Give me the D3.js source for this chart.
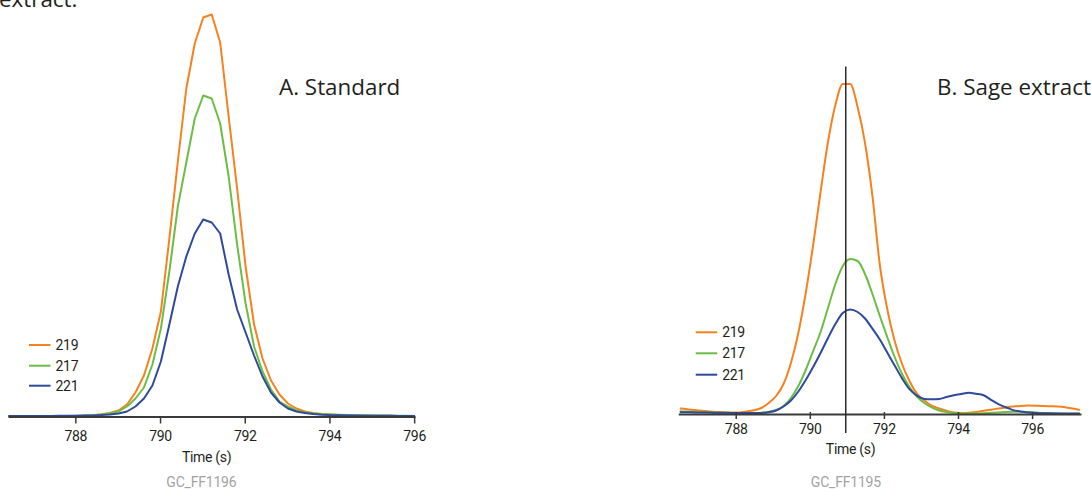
<!DOCTYPE html>
<html>
<head>
<meta charset="utf-8">
<script src="https://cdn.jsdelivr.net/npm/d3@7"></script>
<style>
  html, body { margin: 0; padding: 0; background: #fff; overflow: hidden; }
  svg { display: block; }
  .title { font-family: "Open Sans", sans-serif; font-size: 22.4px; fill: #231f20; }
  .lbl { font-family: Roboto, sans-serif; font-size: 14px; letter-spacing: -0.3px; fill: #231f20; }
  .src { font-family: Roboto, sans-serif; font-size: 14px; letter-spacing: -0.2px; fill: #a3a3a3; }
</style>
</head>
<body>
<svg id="chart" width="1091" height="489"></svg>
<script>
// ---------- DATA ----------
const seriesNames = ["219", "217", "221"];
const seriesColors = ["#f5821f", "#6cbd45", "#2e4b9b"];
const xTicks = [788, 790, 792, 794, 796];

// Panel A: Standard (GC_FF1196)
const timeA = [786.42, 786.62, 786.82, 787.02, 787.22, 787.42, 787.62, 787.82, 788.02,
  788.22, 788.42, 788.62, 788.82, 789.02, 789.22, 789.42, 789.62, 789.82, 790.02,
  790.22, 790.42, 790.62, 790.82, 791.02, 791.22, 791.42, 791.62, 791.82, 792.02,
  792.22, 792.42, 792.62, 792.82, 793.02, 793.22, 793.42, 793.62, 793.82, 794.02,
  794.22, 794.42, 794.62, 794.82, 795.02, 795.22, 795.42, 795.62, 795.82, 796.02];
const a219 = [0.3, 0.3, 0.3, 0.3, 0.3, 0.4, 0.4, 0.5, 0.6,
  0.9, 1.3, 2.2, 3.5, 6, 12, 24, 41, 68, 105,
  178, 255, 328, 373, 399, 402, 374, 300, 228, 150,
  92, 58, 36, 22, 13, 8, 5, 3.5, 2.5, 2,
  1.6, 1.3, 1.1, 1.0, 0.9, 0.8, 0.7, 0.6, 0.5, 0.5];
const a217 = [0.4, 0.4, 0.4, 0.4, 0.4, 0.5, 0.5, 0.6, 0.7,
  0.9, 1.3, 2, 3.2, 5, 10, 18, 29, 52, 88,
  145, 210, 254, 298, 321, 318, 293, 240, 172, 113,
  70, 45, 27, 15, 10, 6, 4, 3, 2.4, 2,
  1.7, 1.5, 1.3, 1.2, 1.1, 1.0, 0.9, 0.8, 0.7, 0.6];
const a221 = [0.6, 0.6, 0.6, 0.6, 0.6, 0.6, 0.7, 0.7, 0.8,
  0.9, 1.1, 1.4, 2, 3, 5, 10, 18, 31, 55,
  92, 130, 160, 183, 197, 194, 183, 142, 107, 84,
  61, 40, 24, 14, 8, 5, 3.5, 2.5, 1.8, 1.4,
  1.2, 1.0, 0.9, 0.8, 0.8, 0.7, 0.7, 0.6, 0.6, 0.6];

// Panel B: Sage extract (GC_FF1195)
const timeB = [786.49, 786.69, 786.89, 787.09, 787.29, 787.49, 787.69, 787.89, 788.09,
  788.29, 788.49, 788.69, 788.89, 789.09, 789.29, 789.49, 789.69, 789.89,
  790.09, 790.29, 790.49, 790.69, 790.89, 791.09, 791.29, 791.49, 791.69, 791.89,
  792.09, 792.29, 792.49, 792.69, 792.89, 793.09, 793.29, 793.49, 793.69, 793.89,
  794.09, 794.29, 794.49, 794.69, 794.89, 795.09, 795.29, 795.49, 795.69, 795.89,
  796.09, 796.29, 796.49, 796.69, 796.89, 797.09, 797.29];
const b219 = [5.4, 4.8, 4.0, 3.3, 2.6, 2.1, 1.7, 1.4, 1.5, 2.5, 3.8, 6, 11, 18, 30, 51, 81, 121,
  169, 222, 272, 309, 330, 330, 307, 271, 218, 149, 105, 73, 50, 33, 20.5, 13.5, 8.3, 5.5, 3.3, 1.5,
  1, 1.2, 2, 3.2, 4.3, 5.5, 6.6, 7.5, 8.1, 8.4, 8.3, 8.1, 7.8, 7.5, 6.8, 5.5, 4.0];
const b217 = [2.7, 2.4, 2.1, 1.8, 1.5, 1.2, 1.0, 0.8, 0.7, 0.8, 1.0, 1.3, 2, 4, 8, 16, 28, 44,
  63, 82, 106, 130, 148, 155, 153, 140, 120, 98, 77, 57, 40, 27, 17.5, 11, 6.7, 3.5, 2, 1,
  0.5, 0.4, 0.5, 0.8, 1.2, 1.6, 2, 2.2, 2.2, 2, 1.5, 1.0, 0.6, 0.4, 0.3, 0.2, 0.2];
const b221 = [1.8, 1.7, 1.6, 1.5, 1.4, 1.3, 1.2, 1.1, 1.0, 1.0, 1.0, 1.1, 1.8, 3.5, 7.5, 13.5, 22.5, 34,
  47, 61, 76, 90, 101, 104.4, 102, 95.5, 85.4, 74.5, 61.4, 48.5, 35.6, 24.8, 18.4, 15.1, 14.7, 15, 17, 18.7,
  20, 21.2, 20.2, 18.7, 14.2, 9.8, 6.8, 3.9, 2.6, 1.4, 0.9, 0.8, 0.7, 0.6, 0.5, 0.4, 0.4];
const markerTimeB = 790.97;

const panels = [
  { time: timeA, series: [a219, a217, a221], title: "A. Standard", source: "GC_FF1196",
    xDomain: [786.41, 796.02], xRange: [8, 415], base: 416.5, smooth: false,
    titleX: 279, tickLen: 7, tickUp: 0, tickLabelY: 24, timeLabelY: 461.5,
    legendX: 29, legendY: [345, 365.7, 385.7], marker: null },
  { time: timeB, series: [b219, b217, b221], title: "B. Sage extract.", source: "GC_FF1195",
    xDomain: [786.45, 797.32], xRange: [678.3, 1081], base: 414, smooth: true,
    titleX: 937, tickLen: 5, tickUp: 2, tickLabelY: 20, timeLabelY: 453.5,
    legendX: 695.7, legendY: [332.3, 353.3, 374.7], marker: markerTimeB }
];
const yMax = 402;

// ---------- DRAW ----------
const svg = d3.select("#chart");

svg.append("text").attr("class", "title").attr("x", -1).attr("y", 7).text("extract.");

panels.forEach(p => {
  const x = d3.scaleLinear().domain(p.xDomain).range(p.xRange);
  const y = d3.scaleLinear().domain([0, yMax]).range([p.base, p.base - yMax]);
  const g = svg.append("g");

  // curves
  const line = d3.line().x(d => x(d[0])).y(d => y(d[1]))
    .curve(p.smooth ? d3.curveMonotoneX : d3.curveLinear);
  p.series.forEach((vals, i) => {
    const pts = p.time.map((t, j) => [t, vals[j]]);
    g.append("path")
      .datum(pts)
      .attr("fill", "none")
      .attr("stroke", seriesColors[i])
      .attr("stroke-width", 2)
      .attr("stroke-linejoin", "round")
      .attr("d", line);
  });

  // axis
  const ax = g.append("g")
    .attr("transform", `translate(0,${p.base})`)
    .call(d3.axisBottom(x).tickValues(xTicks).tickFormat(d3.format("d"))
      .tickSize(p.tickLen).tickSizeOuter(0));
  ax.select(".domain").attr("stroke", "#3a3a3a").attr("stroke-width", 1.8);
  ax.selectAll(".tick line").attr("stroke", "#3a3a3a").attr("stroke-width", 1.5)
    .attr("y1", -p.tickUp);
  ax.selectAll(".tick text")
    .attr("class", "lbl")
    .attr("fill", null)
    .attr("dy", null)
    .attr("y", p.tickLabelY)
    .style("font-family", "Roboto, sans-serif")
    .style("font-size", "14px");

  // marker line
  if (p.marker !== null) {
    g.append("line")
      .attr("x1", x(p.marker)).attr("x2", x(p.marker))
      .attr("y1", 66.5).attr("y2", 433)
      .attr("stroke", "#2a2a2a").attr("stroke-width", 1.5);
  }

  // titles and labels
  g.append("text").attr("class", "title").attr("x", p.titleX).attr("y", 95).text(p.title);
  g.append("text").attr("class", "lbl").attr("text-anchor", "middle")
    .attr("x", x(791.1)).attr("y", p.timeLabelY).text("Time (s)");
  g.append("text").attr("class", "src").attr("text-anchor", "middle")
    .attr("x", x(791.0) - 1).attr("y", 486.5).text(p.source);

  // legend
  seriesNames.forEach((name, i) => {
    g.append("line")
      .attr("x1", p.legendX).attr("x2", p.legendX + 21.5)
      .attr("y1", p.legendY[i]).attr("y2", p.legendY[i])
      .attr("stroke", seriesColors[i]).attr("stroke-width", 2);
    g.append("text").attr("class", "lbl")
      .attr("x", p.legendX + 26.5).attr("y", p.legendY[i]).attr("dy", "0.36em")
      .text(name);
  });
});
</script>
</body>
</html>
